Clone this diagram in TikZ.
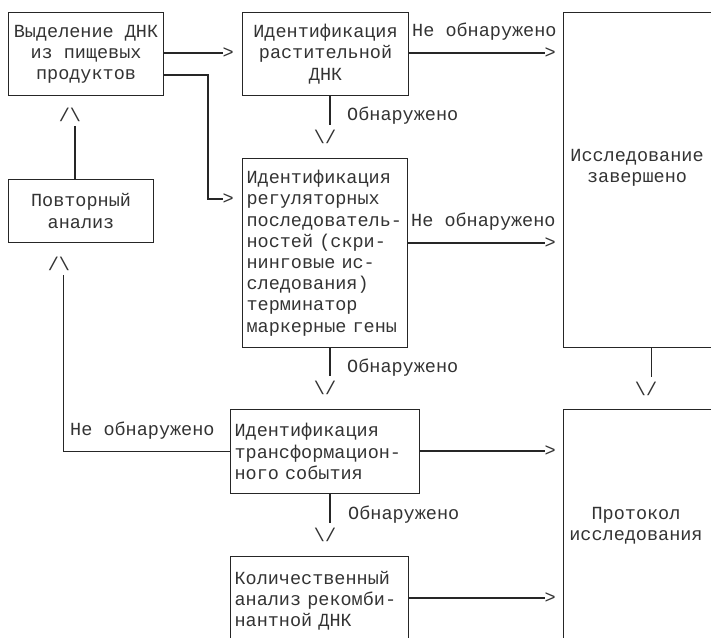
\documentclass[tikz,border=0pt]{standalone}
\usepackage{fontspec}
\setmainfont{Liberation Mono}

\begin{document}
\begin{tikzpicture}[
  x=1pt, y=-1pt, % pixel grid of the original, y grows downwards
  every node/.style={font=\fontsize{18.5}{21.2}\selectfont, text=black!80},
  box/.style={draw=black!85, line width=1.1pt, anchor=north west,
    inner xsep=5pt, inner ysep=0pt, align=center},
  leftbox/.style={box, align=left, inner xsep=4pt},
  glyph/.style={inner sep=0pt},
  lbl/.style={inner sep=0pt, anchor=west},
  link/.style={draw=black!85, line width=1.1pt}]

  \useasboundingbox (0,0) rectangle (711,637);
  \clip (0,0) rectangle (711,637);

  % boxes
  \node[box, minimum width=155, minimum height=83] (extract) at (8,12)
    {Выделение ДНК\\из пищевых\\продуктов};
  \node[box, minimum width=166, minimum height=83] (plant) at (242,12)
    {Идентификация\\растительной\\ДНК};
  \node[leftbox, text width=157, minimum height=189] (regul) at (242,158)
    {Идентификация\\регуляторных\\последователь-\\ностей (скри-\\нинговые ис-\\следования)\\терминатор\\маркерные гены};
  \node[box, minimum width=145, minimum height=63] (repeat) at (8,179)
    {Повторный\\анализ};
  \node[leftbox, text width=181, minimum height=84] (event) at (230,409)
    {Идентификация\\трансформацион-\\ного события};
  \node[leftbox, text width=170, minimum height=88] (quant) at (230,556)
    {Количественный\\анализ рекомби-\\нантной ДНК};
  \node[box, minimum width=152, minimum height=335] (done) at (563,12) {};
  \node (donetxt) at (637,168) [align=center] {Исследование\\завершено};
  \node[box, minimum width=152, minimum height=240] (protocol) at (563,409) {};
  \node (protocoltxt) at (636,526) [align=center] {Протокол\\исследования};

  % arrow heads
  \node[glyph, anchor=east] (gt1) at (234,53) {>};
  \node[glyph, anchor=east] (gt2) at (234,199) {>};
  \node[glyph, anchor=east] (gt3) at (556,53) {>};
  \node[glyph, anchor=east] (gt4) at (556,243) {>};
  \node[glyph, anchor=east] (gt5) at (556,451) {>};
  \node[glyph, anchor=east] (gt6) at (556,598) {>};
  \node[glyph] (dn1) at (325,137) {\textbackslash/};
  \node[glyph] (dn2) at (325,388) {\textbackslash/};
  \node[glyph] (dn3) at (646,389) {\textbackslash/};
  \node[glyph] (dn4) at (325,535) {\textbackslash/};
  \node[glyph] (up1) at (70,115) {/\textbackslash};
  \node[glyph] (up2) at (59,264) {/\textbackslash};

  % labels
  \node[lbl] (no1) at (412,32) {Не обнаружено};
  \node[lbl] (no2) at (411,222) {Не обнаружено};
  \node[lbl] (no3) at (70,431) {Не обнаружено};
  \node[lbl] (yes1) at (347,116) {Обнаружено};
  \node[lbl] (yes2) at (347,368) {Обнаружено};
  \node[lbl] (yes3) at (348,515) {Обнаружено};

  % connectors
  \coordinate (bend) at (208,75);
  \coordinate (d1) at ([xshift=5pt]dn1.north);
  \coordinate (d2) at ([xshift=5pt]dn2.north);
  \coordinate (d3) at ([xshift=5.5pt]dn3.north);
  \coordinate (d4) at ([xshift=5pt]dn4.north);
  \coordinate (u1) at ([xshift=5pt]up1.south);
  \coordinate (u2) at ([xshift=4.5pt]up2.south);

  \draw[link] (extract.east |- gt1) -- (gt1.west);
  \draw[link] (extract.east |- bend) -- (bend) |- (gt2.west);
  \draw[link] (plant.east |- gt3) -- (gt3.west);
  \draw[link] (regul.east |- gt4) -- (gt4.west);
  \draw[link] (event.east |- gt5) -- (gt5.west);
  \draw[link] (quant.east |- gt6) -- (gt6.west);
  \draw[link, shorten >=5pt] (d1 |- plant.south) -- (d1);
  \draw[link, shorten >=5pt] (d2 |- regul.south) -- (d2);
  \draw[link, shorten >=5pt] (d3 |- done.south) -- (d3);
  \draw[link, shorten >=5pt] (d4 |- event.south) -- (d4);
  \draw[link, shorten <=4pt] (u1) -- (u1 |- repeat.north);
  \draw[link, shorten <=4pt] (u2) |- (event.west);
\end{tikzpicture}
\end{document}
